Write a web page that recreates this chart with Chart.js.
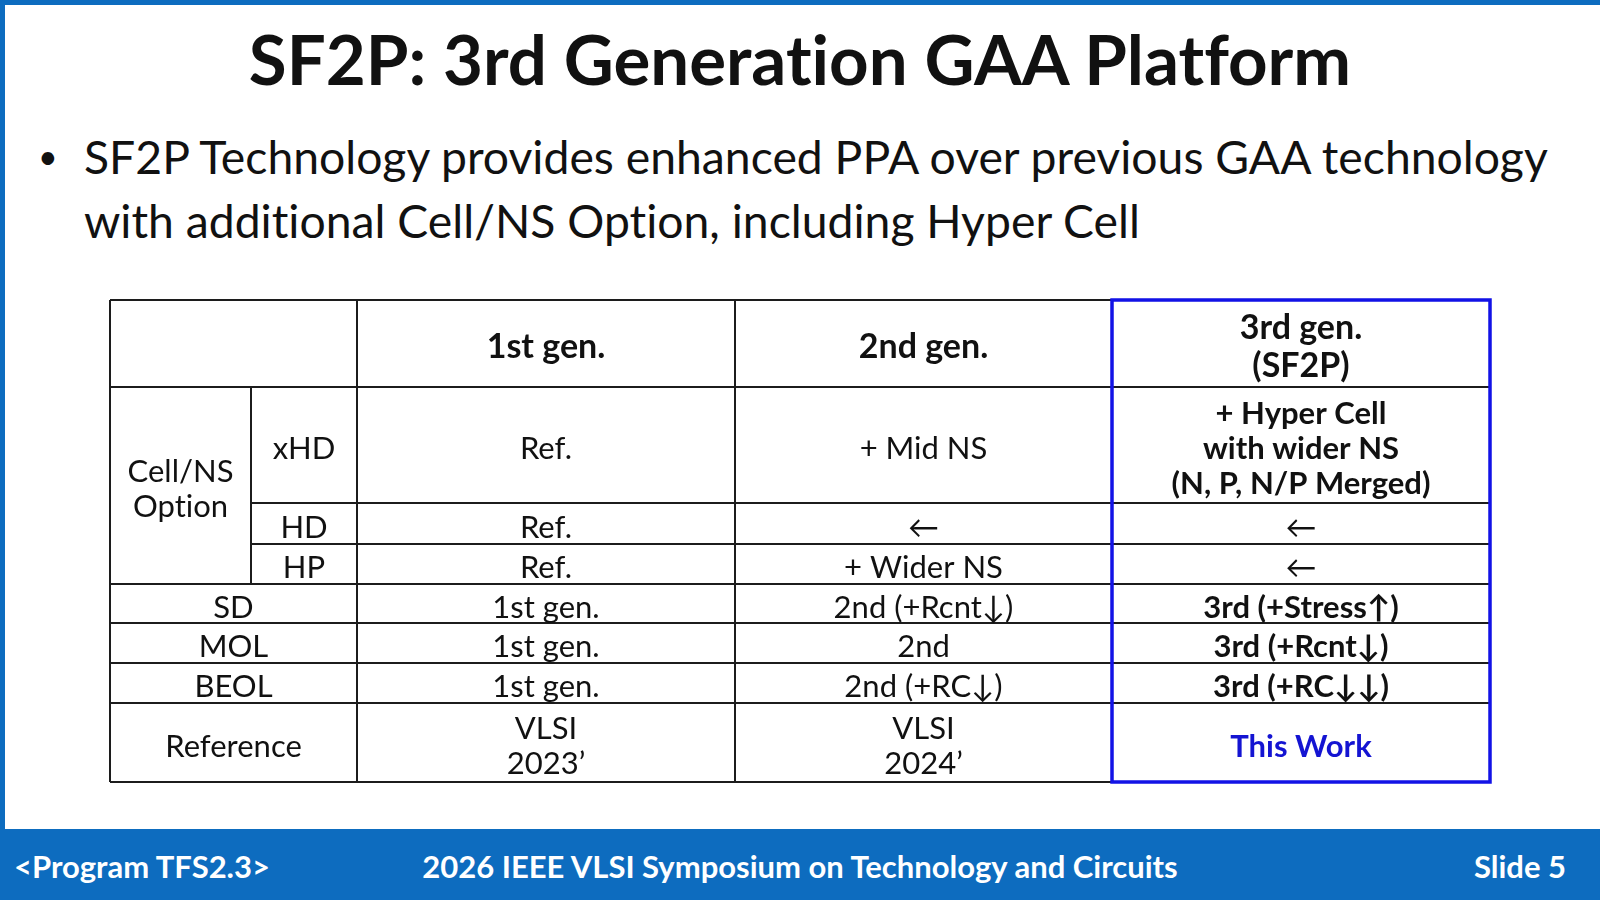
<!DOCTYPE html>
<html>
<head>
<meta charset="utf-8">
<title>SF2P: 3rd Generation GAA Platform</title>
<script src="https://cdn.jsdelivr.net/npm/chart.js@4.4.1/dist/chart.umd.min.js"></script>
<style>
  html, body { margin: 0; padding: 0; }
  body {
    width: 1600px; height: 900px; position: relative; overflow: hidden;
    background: #fff; color: #111;
    font-family: Lato, "DejaVu Sans", sans-serif;
    font-variant-ligatures: none;
  }
  .frame-top { position: absolute; left: 0; top: 0; width: 1600px; height: 5px; background: #0d6cbf; }
  .frame-left { position: absolute; left: 0; top: 0; width: 5px; height: 900px; background: #0d6cbf; }
  .title {
    position: absolute; left: 0; top: 18px; width: 1600px; text-align: center;
    font-size: 69px; font-weight: 700; line-height: 1.2; white-space: nowrap;
  }
  .bullet {
    position: absolute; left: 84px; top: 124px; font-size: 46.3px; line-height: 64px; white-space: nowrap;
  }
  .dot { position: absolute; left: 38px; top: 124px; font-size: 34px; line-height: 64px; }
  .footer {
    position: absolute; left: 0; top: 829px; width: 1600px; height: 71px;
    background: #0d6cbf; color: #fff; font-size: 31px; font-weight: 700; line-height: 71px;
  }
  .footer span { position: absolute; top: 2px; white-space: nowrap; }
  #table-box { position: absolute; left: 100px; top: 290px; width: 1400px; height: 502px; }
</style>
</head>
<body>
<div class="frame-top"></div>
<div class="frame-left"></div>
<div class="title">SF2P: 3rd Generation GAA Platform</div>
<div class="dot">•</div>
<div class="bullet">SF2P Technology provides enhanced PPA over previous GAA technology<br>with additional Cell/NS Option, including Hyper Cell</div>

<div id="table-box"><canvas id="chart"></canvas></div>

<div class="footer">
  <span style="left:14px">&lt;Program TFS2.3&gt;</span>
  <span style="left:0; width:1600px; text-align:center">2026 IEEE VLSI Symposium on Technology and Circuits</span>
  <span style="right:34px">Slide 5</span>
</div>

<script>
// table contents
const columnHeaders = ['1st gen.', '2nd gen.', '3rd gen.\n(SF2P)'];
const groupLabel = 'Cell/NS\nOption';
const optionRows = ['xHD', 'HD', 'HP'];
const rowLabels = ['SD', 'MOL', 'BEOL', 'Reference'];
const gen1 = ['Ref.', 'Ref.', 'Ref.', '1st gen.', '1st gen.', '1st gen.', 'VLSI\n2023’'];
const gen2 = ['+ Mid NS', '←', '+ Wider NS', '2nd (+Rcnt↓)', '2nd', '2nd (+RC↓)', 'VLSI\n2024’'];
const gen3 = ['+ Hyper Cell\nwith wider NS\n(N, P, N/P Merged)', '←', '←', '3rd (+Stress↑)', '3rd (+Rcnt↓)', '3rd (+RC↓↓)', 'This Work'];

// grid layout, in table units (x: columns, y: rows from the top)
const colEdges = [0, 141, 247, 625, 1002, 1380];
const rowEdges = [0, 87, 203, 244, 284, 323, 363, 403, 482];

const FONT = 'Lato, "DejaVu Sans", sans-serif';
const styles = {
  head: { font: 'bold 34px ' + FONT, color: '#111', lh: 38 },
  body: { font: '31px ' + FONT, color: '#111', lh: 35 },
  bold: { font: 'bold 31px ' + FONT, color: '#111', lh: 35 },
  blue: { font: 'bold 31px ' + FONT, color: '#1414d2', lh: 35 },
};
const TEXT_SHIFT = 4; // Lato sits a little higher than the slide font

const cells = [];
function addCell(c0, c1, r0, r1, text, style) {
  cells.push({
    x: (colEdges[c0] + colEdges[c1]) / 2,
    y: (rowEdges[r0] + rowEdges[r1]) / 2,
    text: text,
    style: style
  });
}

columnHeaders.forEach((h, i) => addCell(2 + i, 3 + i, 0, 1, h, 'head'));
addCell(0, 1, 1, 4, groupLabel, 'body');
optionRows.forEach((r, i) => addCell(1, 2, 1 + i, 2 + i, r, 'body'));
rowLabels.forEach((r, i) => addCell(0, 2, 4 + i, 5 + i, r, 'body'));
gen1.forEach((v, i) => addCell(2, 3, 1 + i, 2 + i, v, 'body'));
gen2.forEach((v, i) => addCell(3, 4, 1 + i, 2 + i, v, 'body'));
gen3.forEach((v, i) => {
  let s = v === '←' ? 'body' : 'bold';
  if (i === gen3.length - 1) s = 'blue';
  addCell(4, 5, 1 + i, 2 + i, v, s);
});

// grid lines: [x0, x1, y0, y1]
const gridLines = [
  [0, 1380, rowEdges[0], rowEdges[0]],
  [0, 1380, rowEdges[1], rowEdges[1]],
  [141, 1380, rowEdges[2], rowEdges[2]],
  [141, 1380, rowEdges[3], rowEdges[3]],
  [0, 1380, rowEdges[4], rowEdges[4]],
  [0, 1380, rowEdges[5], rowEdges[5]],
  [0, 1380, rowEdges[6], rowEdges[6]],
  [0, 1380, rowEdges[7], rowEdges[7]],
  [0, 1380, rowEdges[8], rowEdges[8]],
  [colEdges[0], colEdges[0], 0, 482],
  [colEdges[1], colEdges[1], rowEdges[1], rowEdges[4]],
  [colEdges[2], colEdges[2], 0, 482],
  [colEdges[3], colEdges[3], 0, 482],
  [colEdges[4], colEdges[4], 0, 482],
  [colEdges[5], colEdges[5], 0, 482],
];

const tablePlugin = {
  id: 'tablePlugin',
  afterDatasetsDraw(chart) {
    const ctx = chart.ctx;
    const sx = chart.scales.x, sy = chart.scales.y;
    ctx.save();
    ctx.strokeStyle = '#1c1c1c';
    ctx.lineWidth = 2;
    gridLines.forEach(l => {
      ctx.beginPath();
      ctx.moveTo(sx.getPixelForValue(l[0]), sy.getPixelForValue(l[2]));
      ctx.lineTo(sx.getPixelForValue(l[1]), sy.getPixelForValue(l[3]));
      ctx.stroke();
    });

    // highlight box round the 3rd gen. column
    ctx.strokeStyle = '#1212e6';
    ctx.lineWidth = 3.5;
    const bx0 = sx.getPixelForValue(colEdges[4]), bx1 = sx.getPixelForValue(colEdges[5]);
    const by0 = sy.getPixelForValue(0), by1 = sy.getPixelForValue(482);
    ctx.strokeRect(bx0, by0, bx1 - bx0, by1 - by0);

    // cell texts, positioned at the dataset's points
    ctx.textAlign = 'center';
    ctx.textBaseline = 'middle';
    const meta = chart.getDatasetMeta(0);
    meta.data.forEach((pt, i) => {
      const c = cells[i];
      const st = styles[c.style];
      const lines = c.text.split('\n');
      ctx.font = st.font;
      ctx.fillStyle = st.color;
      lines.forEach((t, k) => {
        ctx.fillText(t, pt.x, pt.y + TEXT_SHIFT + (k - (lines.length - 1) / 2) * st.lh);
      });
    });
    ctx.restore();
  }
};

new Chart(document.getElementById('chart'), {
  type: 'scatter',
  data: {
    datasets: [{
      data: cells,
      pointRadius: 0,
      pointHoverRadius: 0
    }]
  },
  options: {
    responsive: true,
    maintainAspectRatio: false,
    animation: false,
    events: [],
    layout: { padding: 10 },
    plugins: { legend: { display: false }, tooltip: { enabled: false } },
    scales: {
      x: { type: 'linear', min: 0, max: 1380, display: false },
      y: { type: 'linear', min: 0, max: 482, reverse: true, display: false }
    }
  },
  plugins: [tablePlugin]
});
</script>
</body>
</html>
